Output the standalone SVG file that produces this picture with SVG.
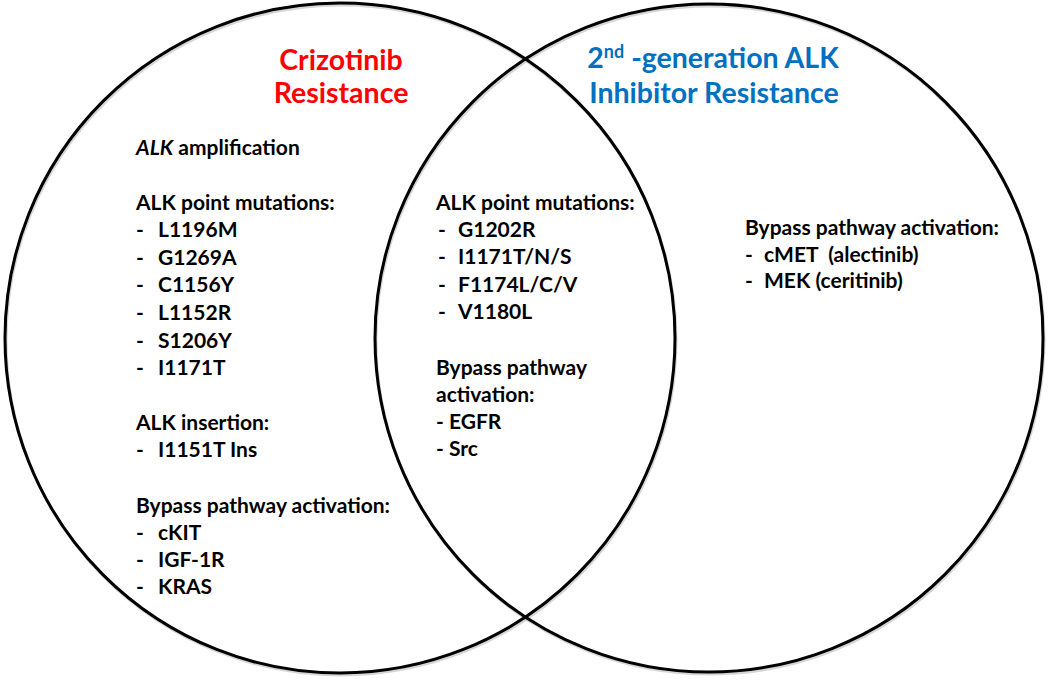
<svg xmlns="http://www.w3.org/2000/svg" width="1050" height="682" viewBox="0 0 1050 682">
<style>
.c{fill:none;stroke:#000;stroke-width:3}
.sh{fill:none;stroke:#bbb;stroke-width:3;opacity:0.6}
text{font-family:Lato,"Open Sans","Liberation Sans",sans-serif;font-weight:bold;font-size:21px;fill:#000}
.t{font-size:28.5px;text-anchor:middle}
.red{fill:#FF0000}
.blue{fill:#0070C0}
</style>
<rect width="1050" height="682" fill="#fff"/>
<g id="circles">
<circle class="sh" cx="341" cy="340" r="335"/>
<circle class="sh" cx="710" cy="340" r="334"/>
<circle id="left-circle" class="c" cx="340" cy="338" r="335"/>
<circle id="right-circle" class="c" cx="709" cy="338" r="334"/>
</g>
<g id="left-title">
<text class="t red" x="341" y="70">Crizotinib</text>
<text class="t red" x="341" y="103">Resistance</text>
</g>
<g id="right-title">
<text class="t blue" x="713" y="68">2<tspan font-size="18" dy="-10">nd</tspan><tspan dy="10"> -generation ALK</tspan></text>
<text class="t blue" x="714" y="103">Inhibitor Resistance</text>
</g>
<g id="left-only">
<text x="136" y="155"><tspan font-style="italic">ALK</tspan> amplification</text>
<text x="136" y="210">ALK point mutations:</text>
<text x="136" y="237">-</text><text x="158" y="237">L1196M</text>
<text x="136" y="265">-</text><text x="158" y="265">G1269A</text>
<text x="136" y="292">-</text><text x="158" y="292">C1156Y</text>
<text x="136" y="320">-</text><text x="158" y="320">L1152R</text>
<text x="136" y="348">-</text><text x="158" y="348">S1206Y</text>
<text x="136" y="375">-</text><text x="158" y="375">I1171T</text>
<text x="136" y="430">ALK insertion:</text>
<text x="136" y="457">-</text><text x="158" y="457">I1151T Ins</text>
<text x="136" y="513">Bypass pathway activation:</text>
<text x="136" y="540">-</text><text x="158" y="540">cKIT</text>
<text x="136" y="567">-</text><text x="158" y="567">IGF-1R</text>
<text x="136" y="594">-</text><text x="158" y="594">KRAS</text>
</g>
<g id="overlap">
<text x="436" y="210">ALK point mutations:</text>
<text x="438" y="237">-</text><text x="458" y="237">G1202R</text>
<text x="438" y="264">-</text><text x="458" y="264">I1171T/N/S</text>
<text x="438" y="292">-</text><text x="458" y="292">F1174L/C/V</text>
<text x="438" y="319">-</text><text x="458" y="319">V1180L</text>
<text x="436" y="375">Bypass pathway</text>
<text x="436" y="402">activation:</text>
<text x="436" y="429">- EGFR</text>
<text x="436" y="456">- Src</text>
</g>
<g id="right-only">
<text x="745" y="235">Bypass pathway activation:</text>
<text x="745" y="262">-</text><text x="764" y="262" xml:space="preserve">cMET  (alectinib)</text>
<text x="745" y="288">-</text><text x="764" y="288">MEK (ceritinib)</text>
</g>
</svg>
